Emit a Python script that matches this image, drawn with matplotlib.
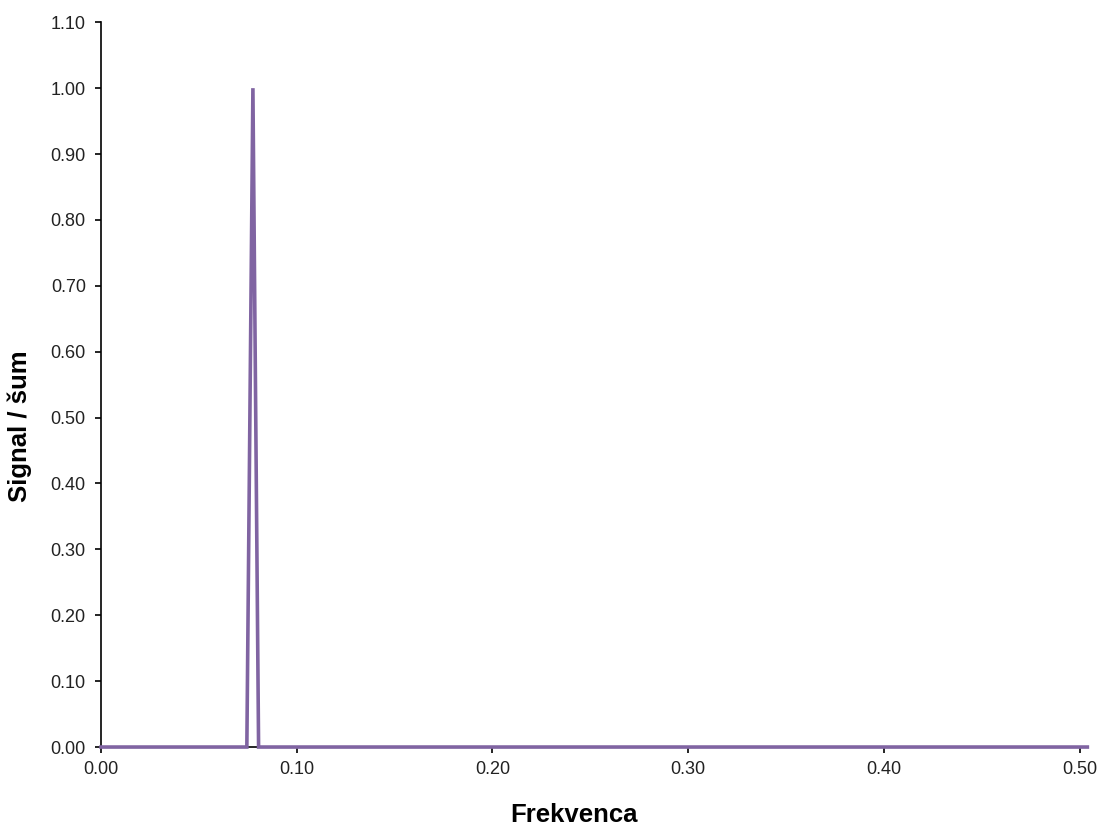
import matplotlib
matplotlib.use("Agg")
import matplotlib.pyplot as plt
from matplotlib.ticker import FormatStrFormatter

plt.rcParams.update({"font.family": ["Liberation Sans", "DejaVu Sans"]})
PURPLE = "#8064A2"

# frequency vs signal/noise
freq = [0.0, 0.0745, 0.0776, 0.0805, 0.504]
snr = [0.0, 0.0, 1.0, 0.0, 0.0]
x_ticks = [0.0, 0.1, 0.2, 0.3, 0.4, 0.5]
y_ticks = [0.0, 0.1, 0.2, 0.3, 0.4, 0.5, 0.6, 0.7, 0.8, 0.9, 1.0, 1.1]

fig = plt.figure(figsize=(11.02, 8.25), dpi=100)
ax = fig.add_axes([0.0917, 0.0945, 0.895, 0.8785])
ax.plot(freq, snr, color=PURPLE, linewidth=2.6, solid_joinstyle="miter", clip_on=False, zorder=3)

ax.set_xlim(0, 0.504)
ax.set_ylim(0, 1.1)
ax.set_xticks(x_ticks)
ax.set_yticks(y_ticks)
ax.xaxis.set_major_formatter(FormatStrFormatter("%.2f"))
ax.yaxis.set_major_formatter(FormatStrFormatter("%.2f"))
ax.spines["top"].set_visible(False)
ax.spines["right"].set_visible(False)
for s in ("left", "bottom"):
    ax.spines[s].set_linewidth(1.2)
ax.tick_params(axis="both", labelsize=13, length=4, width=1.2, direction="out",
               labelcolor="#222222")
ax.tick_params(axis="y", pad=7)
ax.tick_params(axis="x", pad=6)

# axis titles placed in figure pixels like the original
fig.text(574 / 1102, 1 - 815 / 825, "Frekvenca", fontsize=18.5, fontweight="bold",
         ha="center", va="center")
fig.text(20 / 1102, 1 - 426 / 825, "Signal / šum", fontsize=18.5, fontweight="bold",
         ha="center", va="center", rotation=90)

fig.savefig("out.png", dpi=100)
